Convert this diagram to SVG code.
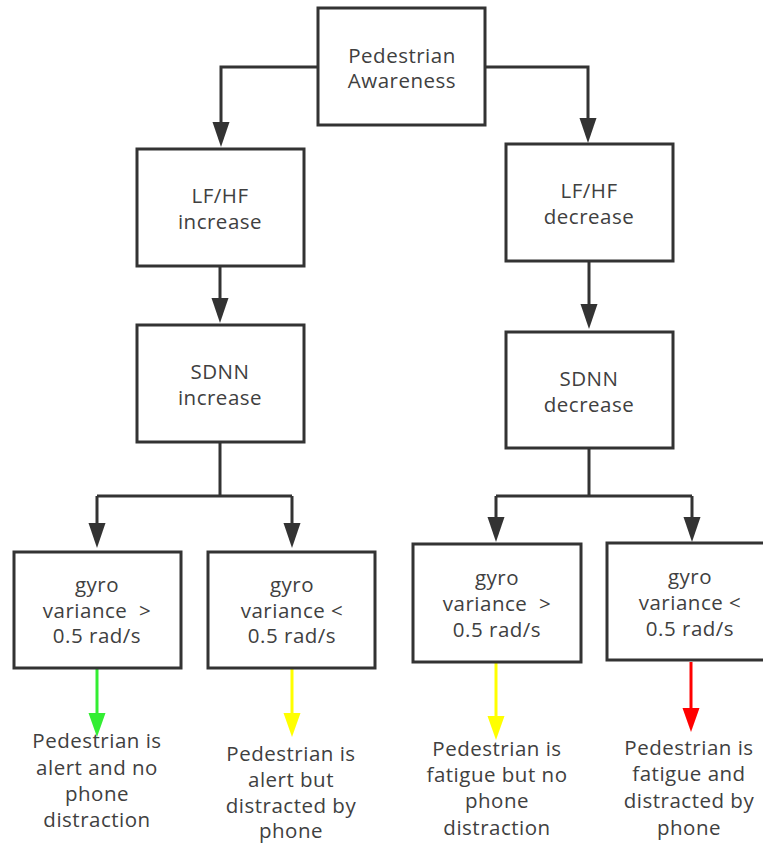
<svg xmlns="http://www.w3.org/2000/svg" width="763" height="845" viewBox="0 0 763 845">
  <style>
    .box { fill: #ffffff; stroke: #333333; stroke-width: 3; }
    .wire { fill: none; stroke: #333333; stroke-width: 3; }
    .label { font-family: "Open Sans", "Noto Sans", "DejaVu Sans", sans-serif; font-size: 20.5px; letter-spacing: 0.5px; fill: #404040; text-anchor: middle; white-space: pre; }
    .green { fill: none; stroke: #33ee33; stroke-width: 3; }
    .yellow { fill: none; stroke: #ffff00; stroke-width: 3; }
    .red { fill: none; stroke: #ff0000; stroke-width: 3; }
  </style>
  <defs>
    <marker id="arrow-dark" markerUnits="userSpaceOnUse" markerWidth="26" markerHeight="18" refX="0" refY="8.5" orient="auto">
      <path d="M0,0 L25,8.5 L0,17 Z" fill="#333333"/>
    </marker>
    <marker id="arrow-green" markerUnits="userSpaceOnUse" markerWidth="26" markerHeight="18" refX="0" refY="8.5" orient="auto">
      <path d="M0,0 L24,8.5 L0,17 Z" fill="#33ee33"/>
    </marker>
    <marker id="arrow-yellow" markerUnits="userSpaceOnUse" markerWidth="26" markerHeight="18" refX="0" refY="8.5" orient="auto">
      <path d="M0,0 L24,8.5 L0,17 Z" fill="#ffff00"/>
    </marker>
    <marker id="arrow-red" markerUnits="userSpaceOnUse" markerWidth="26" markerHeight="18" refX="0" refY="8.5" orient="auto">
      <path d="M0,0 L24,8.5 L0,17 Z" fill="#ff0000"/>
    </marker>
  </defs>
  <rect x="0" y="0" width="763" height="845" fill="#ffffff"/>

  <!-- connectors -->
  <g id="connectors">
    <path class="wire" d="M318,67 H221 V122" marker-end="url(#arrow-dark)"/>
    <path class="wire" d="M485,67 H588 V118" marker-end="url(#arrow-dark)"/>
    <path class="wire" d="M220,266 V298" marker-end="url(#arrow-dark)"/>
    <path class="wire" d="M589,261 V304" marker-end="url(#arrow-dark)"/>
    <path class="wire" d="M220,442 V496"/>
    <path class="wire" d="M97,496 H292"/>
    <path class="wire" d="M97,496 V523" marker-end="url(#arrow-dark)"/>
    <path class="wire" d="M292,496 V523" marker-end="url(#arrow-dark)"/>
    <path class="wire" d="M589,448 V496"/>
    <path class="wire" d="M496,496 H692"/>
    <path class="wire" d="M496,496 V517" marker-end="url(#arrow-dark)"/>
    <path class="wire" d="M692,496 V517" marker-end="url(#arrow-dark)"/>
    <path class="green" d="M97,668 V713" marker-end="url(#arrow-green)"/>
    <path class="yellow" d="M292,668 V713" marker-end="url(#arrow-yellow)"/>
    <path class="yellow" d="M496,662 V716" marker-end="url(#arrow-yellow)"/>
    <path class="red" d="M691,662 V708" marker-end="url(#arrow-red)"/>
  </g>

  <!-- nodes -->
  <g id="awareness">
    <rect class="box" x="318" y="8" width="167" height="117"/>
    <text class="label" x="402" y="63">Pedestrian</text>
    <text class="label" x="402" y="88">Awareness</text>
  </g>
  <g id="lfhf-increase">
    <rect class="box" x="137" y="149" width="167" height="117"/>
    <text class="label" x="220" y="203">LF/HF</text>
    <text class="label" x="220" y="229">increase</text>
  </g>
  <g id="lfhf-decrease">
    <rect class="box" x="506" y="144" width="167" height="117"/>
    <text class="label" x="589" y="198">LF/HF</text>
    <text class="label" x="589" y="224">decrease</text>
  </g>
  <g id="sdnn-increase">
    <rect class="box" x="137" y="325" width="167" height="117"/>
    <text class="label" x="220" y="379">SDNN</text>
    <text class="label" x="220" y="405">increase</text>
  </g>
  <g id="sdnn-decrease">
    <rect class="box" x="506" y="332" width="167" height="116"/>
    <text class="label" x="589" y="386">SDNN</text>
    <text class="label" x="589" y="412">decrease</text>
  </g>
  <g id="gyro-high-alert">
    <rect class="box" x="14" y="552" width="167" height="116"/>
    <text class="label" x="97" y="592">gyro</text>
    <text class="label" x="97" y="618">variance  &gt;</text>
    <text class="label" x="97" y="643">0.5 rad/s</text>
  </g>
  <g id="gyro-low-alert">
    <rect class="box" x="208" y="552" width="167" height="116"/>
    <text class="label" x="292" y="592">gyro</text>
    <text class="label" x="292" y="618">variance &lt;</text>
    <text class="label" x="292" y="643">0.5 rad/s</text>
  </g>
  <g id="gyro-high-fatigue">
    <rect class="box" x="413" y="544" width="168" height="118"/>
    <text class="label" x="497" y="585">gyro</text>
    <text class="label" x="497" y="611">variance  &gt;</text>
    <text class="label" x="497" y="637">0.5 rad/s</text>
  </g>
  <g id="gyro-low-fatigue">
    <rect class="box" x="607" y="543" width="167" height="117"/>
    <text class="label" x="690" y="584">gyro</text>
    <text class="label" x="690" y="610">variance &lt;</text>
    <text class="label" x="690" y="636">0.5 rad/s</text>
  </g>

  <!-- outcomes -->
  <g id="outcome-alert-focused">
    <text class="label" x="97" y="748">Pedestrian is</text>
    <text class="label" x="97" y="775">alert and no</text>
    <text class="label" x="97" y="801">phone</text>
    <text class="label" x="97" y="827">distraction</text>
  </g>
  <g id="outcome-alert-distracted">
    <text class="label" x="291" y="761">Pedestrian is</text>
    <text class="label" x="291" y="787">alert but</text>
    <text class="label" x="291" y="813">distracted by</text>
    <text class="label" x="291" y="838">phone</text>
  </g>
  <g id="outcome-fatigue-focused">
    <text class="label" x="497" y="756">Pedestrian is</text>
    <text class="label" x="497" y="782">fatigue but no</text>
    <text class="label" x="497" y="808">phone</text>
    <text class="label" x="497" y="835">distraction</text>
  </g>
  <g id="outcome-fatigue-distracted">
    <text class="label" x="689" y="755">Pedestrian is</text>
    <text class="label" x="689" y="781">fatigue and</text>
    <text class="label" x="689" y="808">distracted by</text>
    <text class="label" x="689" y="835">phone</text>
  </g>
</svg>
